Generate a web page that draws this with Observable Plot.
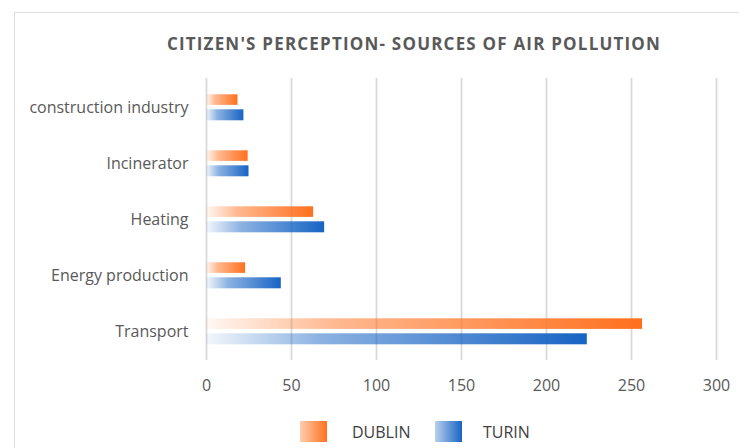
<!DOCTYPE html>
<html>
<head>
<meta charset="utf-8">
<script src="https://cdn.jsdelivr.net/npm/d3@7"></script>
<script src="https://cdn.jsdelivr.net/npm/@observablehq/plot@0.6"></script>
<style>
  html, body { margin: 0; padding: 0; background: #fff; overflow: hidden; }
  #wrap { position: relative; width: 739px; height: 448px; overflow: hidden; font-family: "Open Sans", sans-serif; }
  #frame { position: absolute; left: 14px; top: 12px; width: 900px; height: 600px; border: 1.5px solid #dedede; box-sizing: border-box; }
  #title { position: absolute; left: 0; width: 828px; top: 32px; text-align: center; font-weight: bold; font-size: 17px; letter-spacing: 1.2px; color: #595959; line-height: 24px; }
  #chart { position: absolute; left: 0; top: 0; }
  .sw { position: absolute; top: 421px; width: 27px; height: 21px; }
  .lt { position: absolute; top: 420px; line-height: 24px; font-size: 16px; color: #404040; }
</style>
</head>
<body>
<div id="wrap">
  <div id="frame"></div>
  <div id="title">CITIZEN'S PERCEPTION- SOURCES OF AIR POLLUTION</div>
  <div id="chart"></div>
  <div class="sw" style="left:300px; background: linear-gradient(to right, rgba(255,112,30,0.35), rgb(255,112,30));"></div>
  <div class="lt" style="left:352px;">DUBLIN</div>
  <div class="sw" style="left:435px; background: linear-gradient(to right, rgba(23,100,196,0.3), rgb(23,100,196));"></div>
  <div class="lt" style="left:483px;">TURIN</div>
</div>
<script>
const categories = ["construction industry", "Incinerator", "Heating", "Energy production", "Transport"];
const dublin = [18.5, 24.5, 63, 23, 256.5];
const turin = [22, 25, 69.5, 44, 224];
const xTicks = [0, 50, 100, 150, 200, 250, 300];

const dataD = categories.map((c, i) => ({category: c, value: dublin[i]}));
const dataT = categories.map((c, i) => ({category: c, value: turin[i]}));

const plot = Plot.plot({
  width: 739,
  height: 400,
  marginLeft: 206,
  marginRight: 23,
  marginTop: 78,
  marginBottom: 40,
  style: {fontFamily: "Open Sans, sans-serif", fontSize: "16px", color: "#595959", background: "transparent"},
  x: {domain: [0, 300], ticks: xTicks},
  y: {domain: categories, padding: 0},
  marks: [
    Plot.ruleX(xTicks, {stroke: "#d9d9d9", strokeWidth: 1.8}),
    Plot.barX(dataD, {y: "category", x: "value", fill: "url(#gD)", insetTop: 15.3, insetBottom: 30.1}),
    Plot.barX(dataT, {y: "category", x: "value", fill: "url(#gT)", insetTop: 30.3, insetBottom: 14.7}),
    Plot.axisX(xTicks, {tickSize: 0, tickPadding: 19, label: null, fill: "#595959", fontSize: 16}),
    Plot.axisY({tickSize: 0, tickPadding: 18, label: null, fill: "#595959", fontSize: 16})
  ]
});

const ns = "http://www.w3.org/2000/svg";
const defs = document.createElementNS(ns, "defs");
function grad(id, rgb) {
  const g = document.createElementNS(ns, "linearGradient");
  g.setAttribute("id", id);
  g.setAttribute("x1", "0"); g.setAttribute("x2", "1"); g.setAttribute("y1", "0"); g.setAttribute("y2", "0");
  [[0, 0.05], [0.3, 0.5], [1, 1]].forEach(([o, a]) => {
    const s = document.createElementNS(ns, "stop");
    s.setAttribute("offset", o);
    s.setAttribute("stop-color", rgb);
    s.setAttribute("stop-opacity", a);
    g.appendChild(s);
  });
  defs.appendChild(g);
}
grad("gD", "rgb(255,112,30)");
grad("gT", "rgb(23,100,196)");
plot.insertBefore(defs, plot.firstChild);
document.getElementById("chart").appendChild(plot);
</script>
</body>
</html>
